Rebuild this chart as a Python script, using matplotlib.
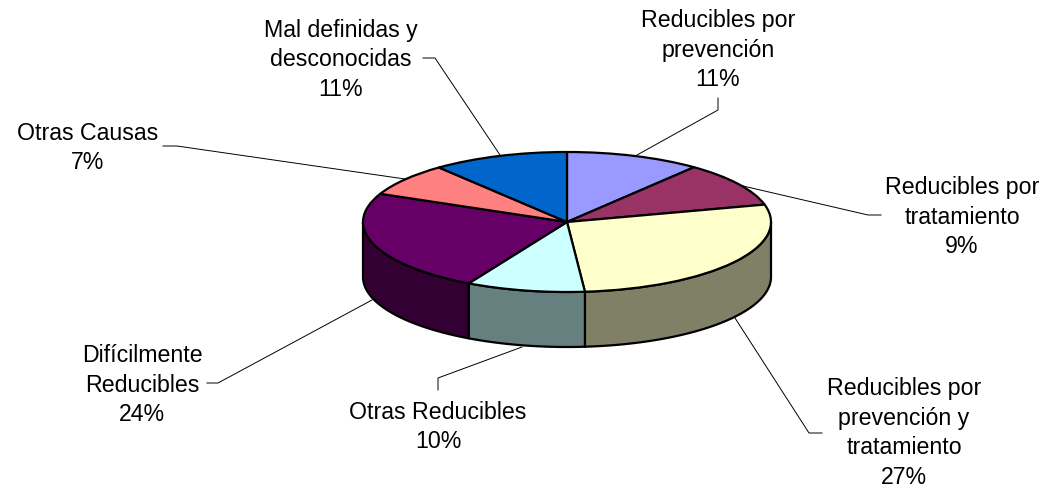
import numpy as np
import matplotlib
matplotlib.use('Agg')
import matplotlib.pyplot as plt
from matplotlib.patches import Polygon

plt.rcParams['font.family'] = ['Liberation Sans', 'DejaVu Sans']

# slice shares (the 3d view skews them a bit from the printed %)
names = ['Reducibles por\nprevención', 'Reducibles por\ntratamiento',
         'Reducibles por\nprevención y\ntratamiento', 'Otras Reducibles',
         'Difícilmente\nReducibles', 'Otras Causas', 'Mal definidas y\ndesconocidas']
shares = [10.7, 10.3, 27.6, 9.4, 23.6, 7.6, 10.8]
percents = ['11%', '9%', '27%', '10%', '24%', '7%', '11%']
top_colors = ['#9999FF', '#993366', '#FFFFCC', '#CCFFFF', '#660066', '#FF8080', '#0066CC']
side_colors = ['#4C4C80', '#4C1933', '#808066', '#668080', '#330033', '#804040', '#003366']

W, H = 1046, 488
cx, cy, rx, ry, depth = 567, 222, 204, 70, 55
EDGE = 1.6

label_pos = [(718, 50), (962, 217), (904, 433), (438, 427), (142, 385), (88, 148), (341, 60)]
leaders = [[(718, 98), (718, 110), (637, 155)],
           [(881, 215), (868, 215), (743, 186)],
           [(822, 433), (809, 433), (735, 318)],
           [(438, 390), (438, 378), (522, 347)],
           [(207, 383), (218, 383), (372, 300)],
           [(163, 146), (177, 146), (405, 179)],
           [(423, 58), (435, 58), (500, 155)]]

fig = plt.figure(figsize=(W / 100, H / 100), dpi=100)

# pie axes: one data unit is one radius, squashed by hand into the ellipse
ax = fig.add_axes([0, 0, 1, 1])
ax.pie(shares, colors=top_colors, startangle=90, counterclock=False, radius=1,
       wedgeprops={'edgecolor': 'black', 'linewidth': EDGE, 'joinstyle': 'round', 'zorder': 3})
ax.set_aspect('auto')
ax.set_xlim((0 - cx) / rx, (W - cx) / rx)
ax.set_ylim((cy - H) / ry, cy / ry)
ax.axis('off')

# side wall, only the front half (clockwise angle from the top between 90 and 270)
edges = np.cumsum([0] + shares) / sum(shares) * 360
d = depth / ry
for i in range(len(shares)):
    a0, a1 = max(edges[i], 90), min(edges[i + 1], 270)
    if a1 <= a0:
        continue
    t = np.radians(np.linspace(a0, a1, 60))
    x, y = np.sin(t), np.cos(t)
    pts = np.vstack([np.column_stack([x, y]), np.column_stack([x, y - d])[::-1]])
    ax.add_patch(Polygon(pts, closed=True, facecolor=side_colors[i], edgecolor='black',
                         linewidth=EDGE, joinstyle='round', zorder=2))

# overlay in pixel coordinates for labels and leader lines
ov = fig.add_axes([0, 0, 1, 1], facecolor='none')
ov.set_xlim(0, W)
ov.set_ylim(H, 0)
ov.axis('off')
for name, pct, (lx, ly), line in zip(names, percents, label_pos, leaders):
    ov.text(lx, ly, name + '\n' + pct, ha='center', va='center', fontsize=16.7,
            linespacing=1.36, color='black')
    ov.plot([p[0] for p in line], [p[1] for p in line], color='black', lw=0.7, zorder=1)

fig.savefig('out.png', dpi=100)
